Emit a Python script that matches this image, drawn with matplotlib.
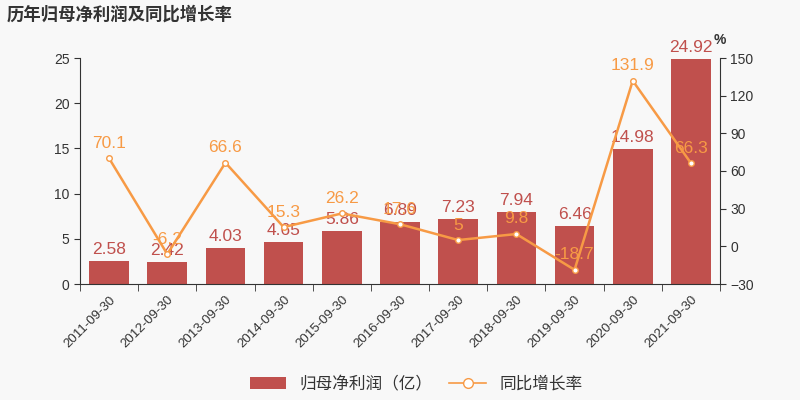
import matplotlib.pyplot as plt
import numpy as np
from matplotlib.lines import Line2D
from matplotlib.patches import FancyBboxPatch

plt.rcParams['font.family'] = ['Liberation Sans', 'Noto Sans CJK SC']

dates = ['2011-09-30', '2012-09-30', '2013-09-30', '2014-09-30', '2015-09-30',
         '2016-09-30', '2017-09-30', '2018-09-30', '2019-09-30', '2020-09-30',
         '2021-09-30']
profit = [2.58, 2.42, 4.03, 4.65, 5.86, 6.89, 7.23, 7.94, 6.46, 14.98, 24.92]
growth = [70.1, -6.2, 66.6, 15.3, 26.2, 17.6, 5, 9.8, -18.7, 131.9, 66.3]

bar_c = '#c0504d'
line_c = '#f79a45'
bg = '#f8f8f8'

fig = plt.figure(figsize=(8, 4), dpi=100, facecolor=bg)
ax1 = fig.add_axes([0.1, 0.29, 0.8, 0.565], facecolor=bg)
x = np.arange(len(dates))
ax1.bar(x, profit, width=0.68, color=bar_c, zorder=2)
for xi, v in zip(x, profit):
    ax1.text(xi, v + 0.45, f'{v:g}', ha='center', va='bottom', color=bar_c, fontsize=12.5, zorder=5)

ax1.set_xlim(-0.5, len(dates) - 0.5)
ax1.set_ylim(0, 25)
ax1.set_yticks(range(0, 26, 5))
ax1.set_xticks(x)
ax1.set_xticklabels(dates, rotation=45, ha='right', rotation_mode='anchor', fontsize=9.5, color='#333333')
ax1.set_xticks(np.arange(-0.5, len(dates), 1), minor=True)
ax1.tick_params(axis='x', which='major', length=0, pad=7)
ax1.tick_params(axis='x', which='minor', length=5, color='#333333')
ax1.tick_params(axis='y', labelsize=10, colors='#333333', length=4)
for s in ['top', 'right']:
    ax1.spines[s].set_visible(False)
for s in ['left', 'bottom']:
    ax1.spines[s].set_color('#333333')

ax2 = ax1.twinx()
ax2.plot(x, growth, color=line_c, lw=1.8, marker='o', ms=4, mfc='white', mec=line_c, mew=1, zorder=3)
for xi, v in zip(x, growth):
    ax2.text(xi, v + 6, f'{v:g}', ha='center', va='bottom', color=line_c, fontsize=12.5, zorder=5)
ax2.set_ylim(-30, 150)
ax2.set_yticks(range(-30, 151, 30))
ax2.tick_params(axis='y', labelsize=10, colors='#333333', length=4)
for s in ['top', 'left', 'bottom']:
    ax2.spines[s].set_visible(False)
ax2.spines['right'].set_color('#333333')
ax2.text(1.0, 1.05, '%', transform=ax2.transAxes, ha='center', va='bottom', fontsize=10,
         fontweight='bold', color='#333333')

fig.text(0.008, 0.965, '历年归母净利润及同比增长率', fontsize=12.5, fontweight='bold', color='#333333',
         ha='left', va='center')

handles = [FancyBboxPatch((0, 0), 1, 1, boxstyle='round,pad=0.1', facecolor=bar_c, edgecolor='none'),
           Line2D([0], [0], color=line_c, lw=1.2, marker='o', ms=7, mfc='white', mec=line_c)]
fig.legend(handles, ['归母净利润（亿）', '同比增长率'], loc='center', bbox_to_anchor=(0.52, 0.04),
           ncol=2, frameon=False, fontsize=12, handlelength=2.2, columnspacing=1.0,
           labelcolor='#333333')

fig.savefig('out.png', dpi=100, facecolor=bg)
